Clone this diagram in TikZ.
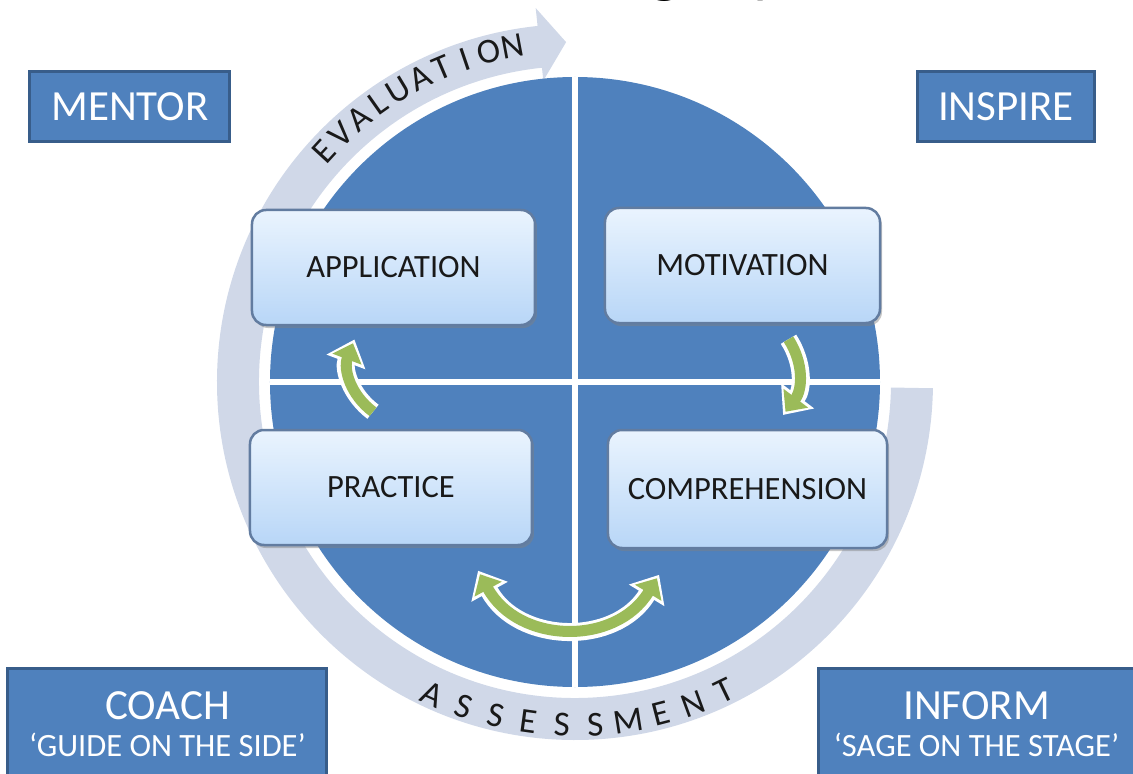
\documentclass[tikz,border=0pt]{standalone}
\usepackage{fontspec}
\setmainfont{Carlito}
\usetikzlibrary{arrows.meta,shadows}

\definecolor{discblue}{RGB}{79,129,189}
\definecolor{roleedge}{RGB}{56,93,138}
\definecolor{bandgrey}{RGB}{208,216,232}
\definecolor{leafgreen}{RGB}{155,187,89}
\definecolor{boxtop}{RGB}{234,244,254}
\definecolor{boxbottom}{RGB}{184,214,247}
\definecolor{boxedge}{RGB}{98,124,160}
\newcommand{\tagfont}{\fontsize{32.5}{37}\selectfont}

\begin{document}
\begin{tikzpicture}[x=1pt, y=1pt,
  stage/.style = {shape=rectangle, rounded corners=14, draw=boxedge, line width=2.5,
    top color=boxtop, bottom color=boxbottom, text=black!90,
    font=\fontsize{32.5}{36}\selectfont,
    drop shadow={shadow xshift=2, shadow yshift=-3, opacity=.45}},
  role/.style = {shape=rectangle, draw=roleedge, line width=3, fill=discblue,
    text=white, align=center, font=\fontsize{43}{37}\selectfont},
  bandtext/.style = {font=\fontsize{35}{35}\selectfont, inner sep=0, text=black!90},
  flow/.style = {draw=leafgreen, line width=11, -{Triangle[length=17,width=30]},
    preaction={draw=white, line width=18, shorten >=-4, -{Triangle[length=24,width=40]}}},
  flowboth/.style = {draw=leafgreen, line width=11,
    {Triangle[length=17,width=30]}-{Triangle[length=17,width=30]},
    preaction={draw=white, line width=18, shorten >=-4, shorten <=-4,
      {Triangle[length=24,width=40]}-{Triangle[length=24,width=40]}}}]
  \useasboundingbox (-575,-392) rectangle (558,382);

  % title, only its lower edge shows
  \node[font=\fontsize{70}{70}\selectfont, anchor=base west, inner sep=0] (title) at (73,392) {g\hspace{69pt}y};

  % grey band round the disc, ending in an arrow at the top
  \fill[bandgrey] (-1:358) arc[start angle=-1, end angle=-264, radius=358]
    -- (96:376) -- (91.5:340) -- (96:303) -- (96:316)
    arc[start angle=-264, end angle=-1, radius=316] -- cycle;
  \foreach \ch [count=\i] in {E,V,A,L,U,A,T,I,O,N}
    \node[bandtext, rotate={47.5-(\i-1)*4.1}] (eval\i) at ({137.5-(\i-1)*4.1}:341) {\ch};
  \foreach \ch [count=\i] in {A,S,S,E,S,S,M,E,N,T}
    \node[bandtext, rotate={-24.5+(\i-1)*5.58}] (assess\i) at ({-114.5+(\i-1)*5.58}:343) {\ch};

  % the disc and its quarters
  \node[circle, fill=discblue, minimum size=610, inner sep=0] (disc) at (0,0) {};
  \draw[white, line width=6] (disc.north) -- (disc.south) (disc.west) -- (disc.east);

  \node[stage, minimum width=283, minimum height=115] (application) at (-181.5,114.5) {APPLICATION};
  \node[stage, minimum width=275, minimum height=115] (motivation) at (167.5,116.5) {MOTIVATION};
  \node[stage, minimum width=282, minimum height=115] (practice) at (-184,-105.5) {PRACTICE};
  \node[stage, minimum width=279, minimum height=118] (comprehension) at (172.5,-107) {COMPREHENSION};

  \draw[flow] ([shift={(-18,17)}]practice.north) to[bend left=37] ([shift={(-40.5,-17)}]application.south);
  \draw[flow] ([shift={(46,-15)}]motivation.south) to[bend left=35] ([shift={(38,17)}]comprehension.north);
  \draw[flowboth] ([shift={(89,-28)}]practice.south) to[bend right=60, looseness=1.15] ([shift={(-90.5,-29)}]comprehension.south);

  % roles in the corners
  \node[role, minimum width=200, minimum height=70] (mentor) at (-445,275) {MENTOR};
  \node[role, minimum width=177, minimum height=70] (inspire) at (431,275) {INSPIRE};
  \node[role, minimum width=319, minimum height=112] (coach) at (-407.5,-342) {COACH\\{\tagfont ‘GUIDE ON THE SIDE’}};
  \node[role, minimum width=317, minimum height=112] (inform) at (401.5,-342) {INFORM\\{\tagfont ‘SAGE ON THE STAGE’}};
\end{tikzpicture}
\end{document}
